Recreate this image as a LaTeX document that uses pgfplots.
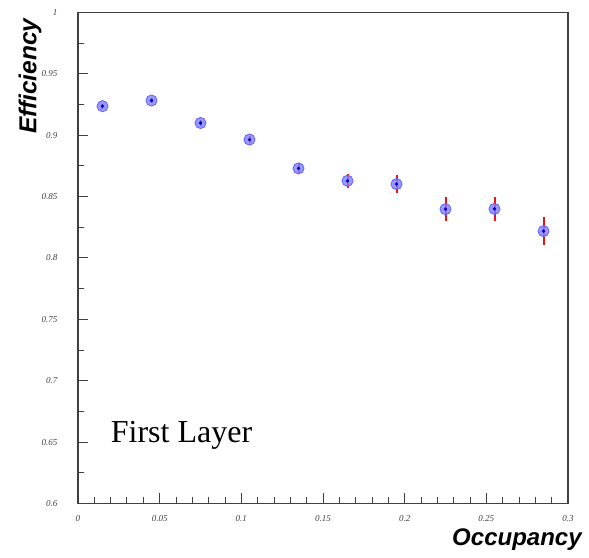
\documentclass[border=0pt]{standalone}
\usepackage{pgfplots}
\pgfplotsset{compat=1.18}
\usepackage{fontspec}
\setmainfont{Liberation Serif}
\newfontfamily\arial{Liberation Sans}
\definecolor{barred}{RGB}{235,20,20}
\begin{document}
\begin{tikzpicture}
\path[use as bounding box] (0,0) rectangle (589pt,557pt);
\begin{axis}[
  at={(78pt,53.5pt)}, anchor=south west,
  scale only axis, width=490pt, height=491pt,
  xmin=0, xmax=0.3, ymin=0.6, ymax=1,
  xtick={0,0.05,0.1,0.15,0.2,0.25,0.3},
  xticklabels={0,0.05,0.1,0.15,0.2,0.25,0.3},
  ytick={0.6,0.65,0.7,0.75,0.8,0.85,0.9,0.95,1},
  yticklabels={0.6,0.65,0.7,0.75,0.8,0.85,0.9,0.95,1},
  minor x tick num=4, minor y tick num=1,
  tick align=inside, xtick pos=bottom, ytick pos=left,
  major tick length=10pt, minor tick length=6pt,
  every tick/.style={black!75, line width=1pt},
  axis line style={black!75, line width=1.2pt},
  ticklabel style={font=\fontsize{9}{10}\selectfont\itshape, text=black!75},
  yticklabel style={xshift=-17pt},
  xticklabel style={yshift=-8pt},
  xlabel={\arial\bfseries\itshape Occupancy},
  ylabel={\arial\bfseries\itshape Efficiency},
  xlabel style={at={(axis description cs:1.035,-0.074)}, anchor=east, font=\fontsize{24}{28}\selectfont},
  ylabel style={at={(axis description cs:-0.098,0.995)}, anchor=east, font=\fontsize{24.5}{28}\selectfont},
  clip=false,
]
% error bars: lower and upper ends of each bar
\addplot[draw=barred, line width=2pt, mark=none, unbounded coords=jump] coordinates {
  (0.015,0.9217) (0.015,0.9257) (0.015,nan)
  (0.045,0.9263) (0.045,0.9303) (0.045,nan)
  (0.075,0.9075) (0.075,0.9125) (0.075,nan)
  (0.105,0.8935) (0.105,0.8995) (0.105,nan)
  (0.135,0.8690) (0.135,0.8770) (0.135,nan)
  (0.165,0.8571) (0.165,0.8687) (0.165,nan)
  (0.195,0.8527) (0.195,0.8677) (0.195,nan)
  (0.225,0.8303) (0.225,0.8493) (0.225,nan)
  (0.255,0.8305) (0.255,0.8495) (0.255,nan)
  (0.285,0.8102) (0.285,0.8336)
  };
\addplot[only marks, mark=*, mark size=5.6pt, mark options={fill=blue!50, draw=blue!65, line width=0.7pt, fill opacity=0.8}]
  table[x=x, y=y] {
  x y
  0.015 0.9237
  0.045 0.9283
  0.075 0.9100
  0.105 0.8965
  0.135 0.8730
  0.165 0.8629
  0.195 0.8602
  0.225 0.8398
  0.255 0.8400
  0.285 0.8219
  };
\addplot[only marks, mark=*, mark size=1.5pt, mark options={fill=blue!80!black, draw=blue!80!black}]
  table[x=x, y=y] {
  x y
  0.015 0.9237
  0.045 0.9283
  0.075 0.9100
  0.105 0.8965
  0.135 0.8730
  0.165 0.8629
  0.195 0.8602
  0.225 0.8398
  0.255 0.8400
  0.285 0.8219
  };
\node[anchor=base west, font=\fontsize{32}{36}\selectfont, inner sep=0pt] at (axis cs:0.02,0.6493) {First Layer};
\end{axis}
\end{tikzpicture}
\end{document}
